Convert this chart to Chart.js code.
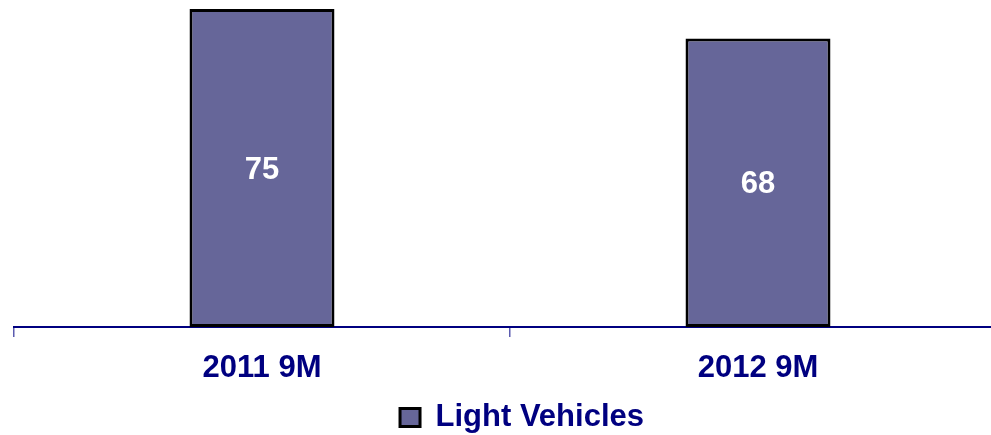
<!DOCTYPE html>
<html>
<head>
<meta charset="utf-8">
<script src="https://cdn.jsdelivr.net/npm/chart.js"></script>
<style>
  html, body { margin: 0; padding: 0; overflow: hidden; background: #ffffff; }
  #wrap { width: 1010px; height: 435px; position: relative; }
</style>
</head>
<body>
<div id="wrap"><canvas id="c"></canvas></div>
<script>
const categories = ["2011 9M", "2012 9M"];
const seriesName = "Light Vehicles";
const lightVehicles = [75, 68];

const FONT = "'Liberation Sans', Arial, Helvetica, sans-serif";
const NAVY = "#000080";
const BAR_FILL = "#666699";

const valueLabels = {
  id: "valueLabels",
  afterDatasetsDraw(chart) {
    const ctx = chart.ctx;
    const meta = chart.getDatasetMeta(0);
    ctx.save();
    ctx.fillStyle = "#ffffff";
    ctx.font = "bold 31px " + FONT;
    ctx.textAlign = "center";
    ctx.textBaseline = "middle";
    meta.data.forEach((bar, i) => {
      const p = bar.getProps(["x", "y", "base"], true);
      ctx.fillText(String(chart.data.datasets[0].data[i]), p.x, (p.y + p.base) / 2 + 2);
    });
    ctx.restore();
  }
};

const shiftLegend = {
  id: "shiftLegend",
  afterLayout(chart) {
    if (chart.legend) {
      chart.legend.left += 12;
      chart.legend.right += 12;
      chart.legend.top += 2;
      chart.legend.bottom += 2;
    }
  }
};

new Chart(document.getElementById("c"), {
  type: "bar",
  data: {
    labels: categories,
    datasets: [{
      label: seriesName,
      data: lightVehicles,
      backgroundColor: BAR_FILL,
      borderColor: "#000000",
      borderWidth: 3,
      borderSkipped: false,
      barPercentage: 1,
      categoryPercentage: 0.2923
    }]
  },
  options: {
    responsive: true,
    maintainAspectRatio: false,
    animation: false,
    layout: { padding: { left: 14, right: 4, top: 0, bottom: -6 } },
    scales: {
      x: {
        grid: {
          display: true,
          offset: true,
          drawOnChartArea: false,
          drawTicks: true,
          tickLength: 10,
          color: "#5c5cb0",
          lineWidth: 1.5
        },
        border: { display: true, color: NAVY, width: 2 },
        ticks: {
          color: NAVY,
          font: { family: FONT, size: 31, weight: "bold", lineHeight: 1.2 },
          padding: 12.9
        }
      },
      y: {
        display: false,
        min: 0,
        max: 77.1
      }
    },
    plugins: {
      tooltip: { enabled: false },
      legend: {
        display: true,
        position: "bottom",
        labels: {
          color: NAVY,
          font: { family: FONT, size: 31, weight: "bold" },
          boxWidth: 20,
          boxHeight: 18,
          padding: 0
        }
      }
    }
  },
  plugins: [valueLabels, shiftLegend]
});
</script>
</body>
</html>
